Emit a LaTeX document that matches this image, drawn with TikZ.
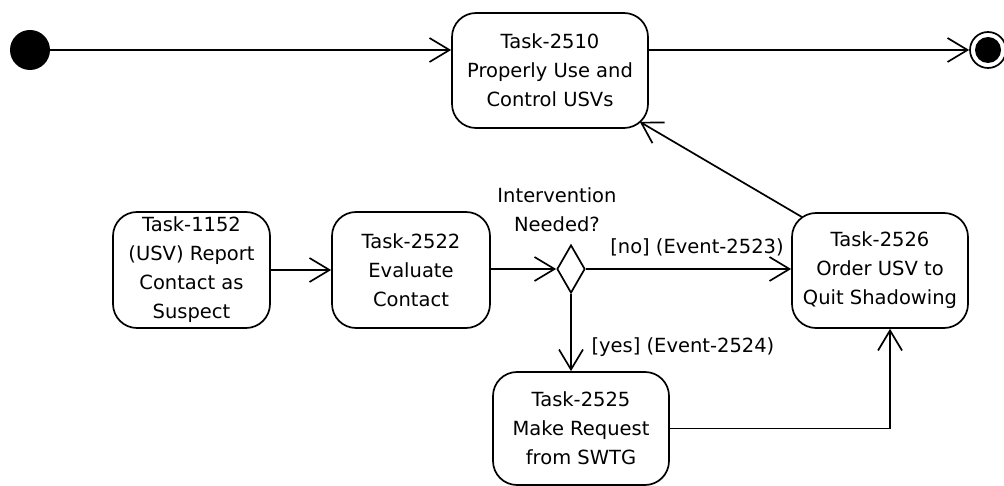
\documentclass[tikz,border=0pt]{standalone}
\usepackage{fontspec}
\newfontfamily\labelfont{DejaVu Sans}
\usetikzlibrary{arrows.meta,shapes.geometric}
\begin{document}
\begin{tikzpicture}[x=1pt,y=-1pt,
  every node/.style={font=\labelfont\fontsize{19.5}{29}\selectfont},
  task/.style={draw,rounded corners=24pt,line width=1.7pt,align=center,inner sep=0pt},
  flow/.style={line width=1.7pt,-{Straight Barb[length=20pt,width=24pt]}},
]
\useasboundingbox (0,0) rectangle (1004,486);

% start and end points
\node[circle,fill=black,minimum size=40pt,inner sep=0pt] (init) at (30,50) {};
\node[circle,draw,line width=1.7pt,minimum size=36pt,inner sep=0pt] (final) at (988,50) {};
\fill (final.center) circle (13pt);

% tasks
\node[task,minimum width=196pt,minimum height=115pt] (t2510) at (550,70.5) {Task-2510\\Properly Use and\\Control USVs};
\node[task,minimum width=157pt,minimum height=116pt] (t1152) at (191.5,270) {Task-1152\\(USV) Report\\Contact as\\Suspect};
\node[task,minimum width=158pt,minimum height=116pt] (t2522) at (411,270) {Task-2522\\Evaluate\\Contact};
\node[diamond,draw,line width=1.7pt,minimum width=28pt,minimum height=48pt,inner sep=0pt] (dec) at (571,269) {};
\node[task,minimum width=176pt,minimum height=115pt] (t2526) at (880,270.5) {Task-2526\\Order USV to\\Quit Shadowing};
\node[task,minimum width=176pt,minimum height=113pt] (t2525) at (581,428.5) {Task-2525\\Make Request\\from SWTG};

% labels
\node[align=center] (q) at (557,210) {Intervention\\Needed?};
\node (nolab) at (697,247) {[no] (Event-2523)};
\node[anchor=west] (yeslab) at (588,347) {[yes] (Event-2524)};

% transitions
\draw[flow] (init) -- (init -| t2510.west);
\draw[flow] (t2510.east |- final) -- (final.west);
\draw[flow] (t1152) -- (t2522);
\draw[flow] (t2522.east |- dec) -- (dec.west);
\draw[flow] (dec.east) -- (dec.east -| t2526.west);
\draw[flow] (dec.south) -- (dec.south |- t2525.north);
\draw[flow] (t2525.east) -| ([xshift=10pt]t2526.south);
\draw[flow] ([shift={(11pt,-5pt)}]t2526.north west) -- ([shift={(-9pt,7pt)}]t2510.south east);
\end{tikzpicture}
\end{document}
